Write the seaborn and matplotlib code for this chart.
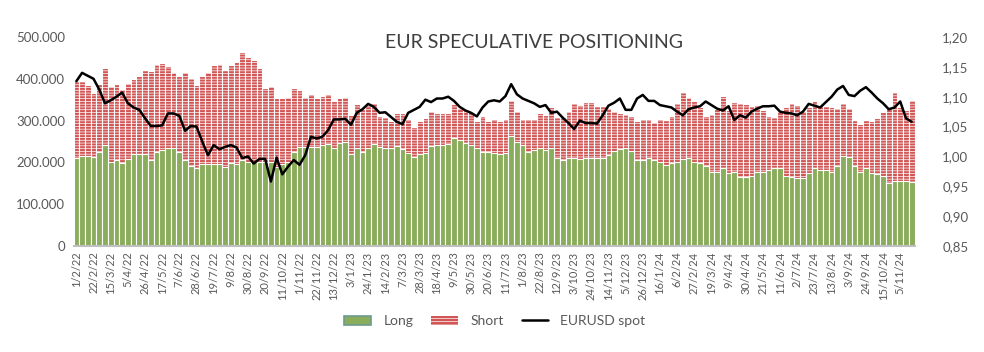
import numpy as np
import pandas as pd
import seaborn as sns
import matplotlib.pyplot as plt
from matplotlib.patches import Patch
from matplotlib.lines import Line2D

# weekly COT report dates (Tuesdays), 1/2/22 .. 19/11/24
dates = pd.date_range("2022-02-01", periods=147, freq="7D")

# long + short (thousands of contracts)
total_k = [
    395, 395, 386, 367, 387, 425, 382, 388, 376, 390, 400, 406, 420, 419, 436, 438, 431, 416, 406, 416,
    402, 386, 407, 416, 433, 435, 421, 433, 440, 464, 452, 445, 426, 378, 383, 354, 354, 356, 378, 373,
    356, 364, 354, 359, 364, 347, 354, 356, 313, 340, 327, 337, 341, 311, 308, 300, 317, 317, 303, 284,
    299, 307, 323, 317, 317, 318, 340, 331, 325, 320, 299, 312, 299, 303, 300, 305, 349, 324, 305, 303,
    303, 317, 313, 332, 308, 308, 324, 341, 337, 345, 345, 335, 335, 329, 324, 317, 316, 311, 300, 303,
    303, 297, 303, 301, 311, 341, 368, 356, 347, 332, 311, 316, 327, 359, 325, 345, 341, 340, 335, 337,
    325, 311, 308, 322, 332, 341, 337, 324, 332, 346, 337, 335, 333, 329, 341, 330, 301, 293, 301, 298,
    306, 321, 332, 368, 333, 325, 349,
]

long_k = [
    210, 216, 215, 212, 226, 241, 200, 206, 198, 207, 219, 219, 219, 206, 226, 230, 234, 234, 226, 206,
    191, 187, 195, 195, 195, 195, 189, 198, 196, 206, 202, 200, 201, 200, 202, 190, 195, 200, 224, 236,
    236, 236, 238, 242, 243, 234, 246, 250, 220, 234, 226, 235, 243, 236, 234, 234, 239, 231, 222, 214,
    220, 222, 240, 241, 242, 244, 258, 254, 246, 242, 234, 226, 224, 222, 220, 222, 263, 250, 242, 226,
    230, 234, 230, 234, 210, 206, 210, 210, 207, 211, 211, 210, 210, 218, 228, 231, 234, 228, 206, 206,
    210, 206, 202, 194, 198, 202, 207, 210, 202, 198, 191, 178, 178, 186, 174, 178, 166, 164, 168, 178,
    178, 182, 186, 186, 168, 164, 163, 163, 175, 186, 182, 183, 178, 191, 215, 212, 191, 178, 186, 175,
    172, 167, 150, 156, 156, 156, 152,
]

eurusd = [
    1.126, 1.140, 1.135, 1.130, 1.112, 1.089, 1.094, 1.100, 1.107, 1.089, 1.082, 1.078, 1.064, 1.051, 1.051,
    1.052, 1.072, 1.072, 1.068, 1.043, 1.051, 1.050, 1.025, 1.002, 1.019, 1.012, 1.016, 1.019, 1.015, 0.997,
    1.000, 0.988, 0.996, 0.996, 0.958, 0.998, 0.970, 0.983, 0.994, 0.986, 1.002, 1.033, 1.030, 1.033, 1.044,
    1.062, 1.062, 1.063, 1.053, 1.073, 1.079, 1.088, 1.083, 1.073, 1.074, 1.066, 1.058, 1.054, 1.073, 1.078,
    1.083, 1.095, 1.091, 1.097, 1.097, 1.100, 1.093, 1.083, 1.077, 1.073, 1.067, 1.082, 1.092, 1.094, 1.092,
    1.101, 1.121, 1.104, 1.097, 1.093, 1.089, 1.083, 1.086, 1.073, 1.075, 1.065, 1.056, 1.046, 1.060, 1.056,
    1.056, 1.055, 1.069, 1.085, 1.090, 1.097, 1.078, 1.078, 1.097, 1.103, 1.093, 1.093, 1.086, 1.084, 1.082,
    1.075, 1.069, 1.079, 1.082, 1.084, 1.092, 1.086, 1.080, 1.077, 1.084, 1.061, 1.069, 1.065, 1.075, 1.080,
    1.084, 1.084, 1.085, 1.075, 1.073, 1.072, 1.069, 1.075, 1.088, 1.085, 1.082, 1.091, 1.100, 1.112, 1.118,
    1.103, 1.101, 1.110, 1.116, 1.107, 1.097, 1.089, 1.079, 1.082, 1.092, 1.064, 1.058,
]

labels = [f"{d.day}/{d.month}/{d.year % 100}" for d in dates]
df = pd.DataFrame({"date": labels,
                   "total": np.array(total_k) * 1000,
                   "long": np.array(long_k) * 1000,
                   "spot": eurusd})

sns.set_theme(style="white")
plt.rcParams["font.family"] = ["Lato", "DejaVu Sans"]
plt.rcParams["hatch.linewidth"] = 0.5

GREEN = "#8aad5c"
TEAL = "#6d9a8f"
RED = "#d25555"
GREY = "#595959"

fig = plt.figure(figsize=(9.84, 3.52), dpi=100)
ax = fig.add_axes([0.0747, 0.3011, 0.8547, 0.5938])

# short sits on top of long -> draw total first, then long over it
# full-width bars with a white outline give even gaps between bars
sns.barplot(data=df, x="date", y="total", color=RED, saturation=1, width=1.0,
            hatch="------", edgecolor="white", linewidth=0.8, ax=ax)
sns.barplot(data=df, x="date", y="long", color=GREEN, saturation=1, width=1.0,
            edgecolor="white", linewidth=0.8, ax=ax)

ax.set_ylim(0, 500000)
ax.set_yticks(np.arange(0, 500001, 100000))
ax.set_yticklabels([f"{int(v):,}".replace(",", ".") for v in np.arange(0, 500001, 100000)])
ax.set_xlim(-0.5, len(df) - 0.5)
ax.set_xticks(range(0, len(df), 3))
ax.set_xticklabels(labels[::3], rotation=90)
ax.set_xlabel("")
ax.set_ylabel("")
ax.tick_params(axis="y", length=0, pad=6, labelsize=9.5, labelcolor=GREY)
ax.tick_params(axis="x", length=0, pad=4, labelsize=8, labelcolor=GREY)
for s in ["top", "right", "left"]:
    ax.spines[s].set_visible(False)
ax.spines["bottom"].set_color("#bfbfbf")
ax.spines["bottom"].set_linewidth(1.5)

ax2 = ax.twinx()
sns.lineplot(x=np.arange(len(df)), y=df["spot"], color="black", linewidth=1.8, ax=ax2)
ax2.set_ylim(0.85, 1.20)
ax2.set_yticks(np.arange(0.85, 1.2001, 0.05))
ax2.set_yticklabels([f"{v:.2f}".replace(".", ",") for v in np.arange(0.85, 1.2001, 0.05)])
ax2.set_ylabel("")
ax2.tick_params(axis="y", length=0, pad=20, labelsize=9.5, labelcolor=GREY)
for s in ax2.spines.values():
    s.set_visible(False)
ax.set_xlim(-0.5, len(df) - 0.5)

fig.text(0.543, 0.878, "EUR SPECULATIVE POSITIONING", ha="center", va="center",
         fontsize=14, color="#404040")

handles = [Patch(facecolor=GREEN, edgecolor=TEAL, linewidth=1.2),
           Patch(facecolor=RED, edgecolor="white", hatch="-----", linewidth=0),
           Line2D([0], [0], color="black", linewidth=1.8)]
fig.legend(handles, ["Long", "Short", "EURUSD spot"], loc="center", ncol=3,
           bbox_to_anchor=(0.503, 0.088), frameon=False, fontsize=10,
           labelcolor=GREY, handlelength=1.9, handleheight=0.6,
           handletextpad=0.9, columnspacing=1.3)

fig.savefig("out.png", dpi=100)
